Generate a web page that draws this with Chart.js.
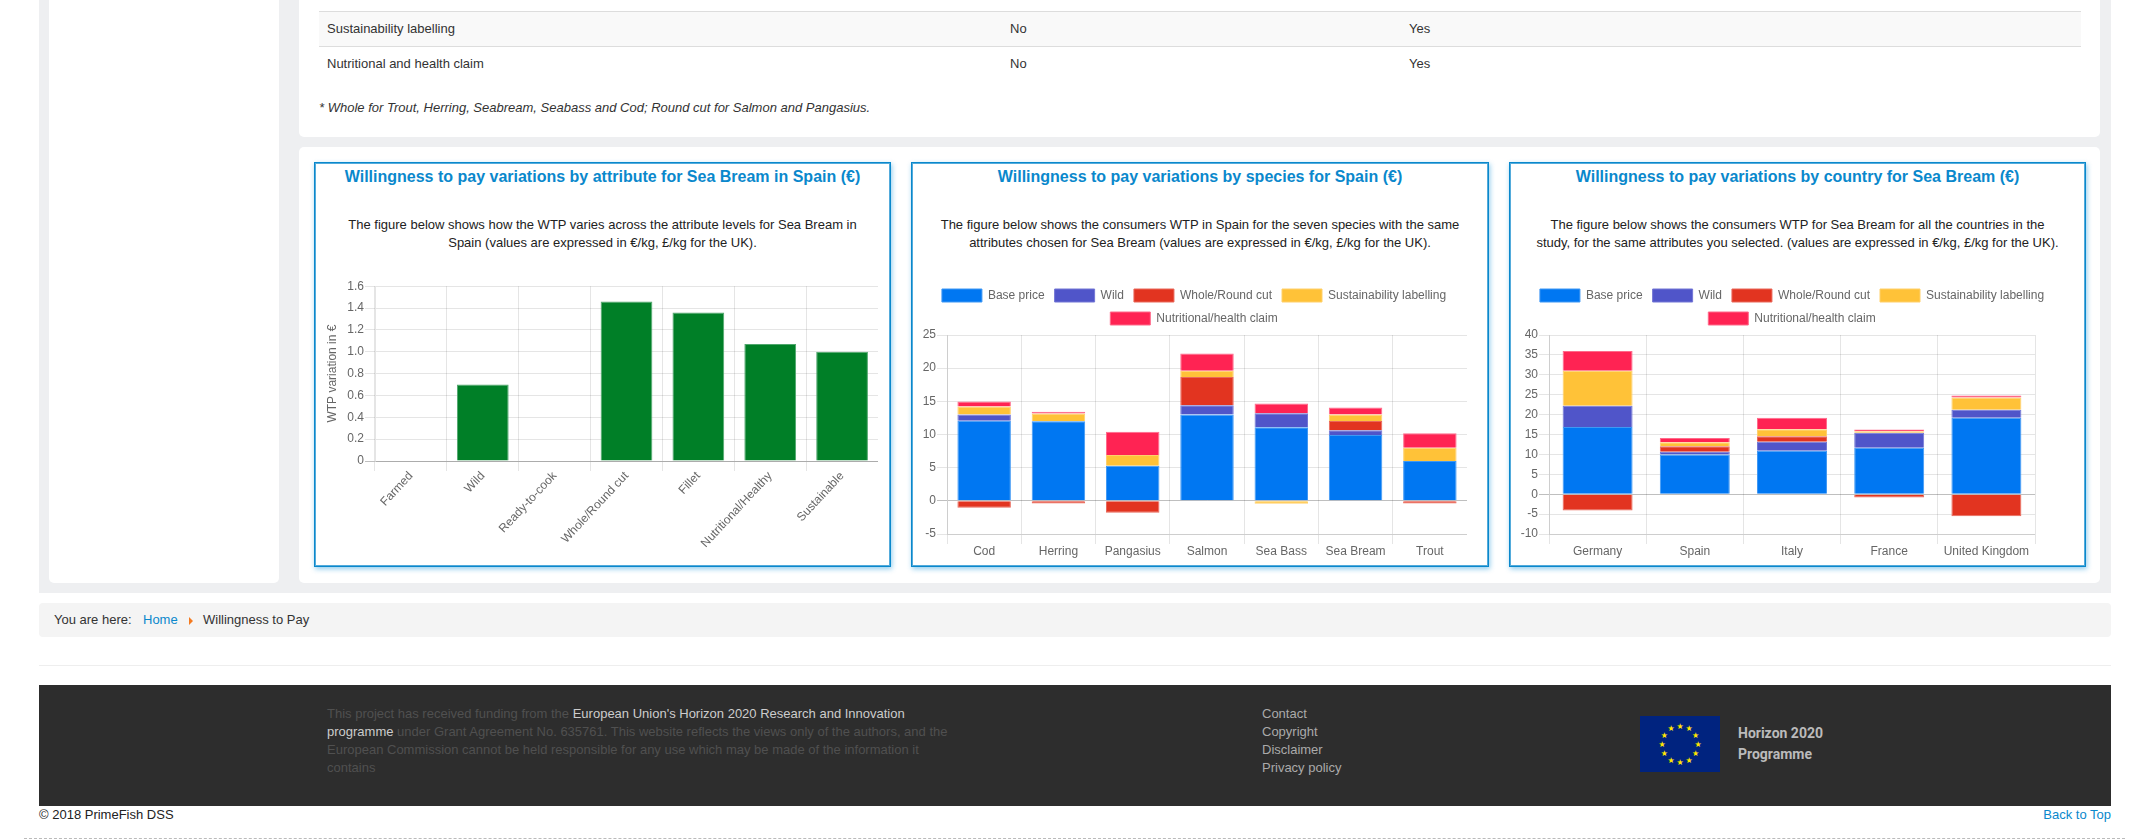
<!DOCTYPE html>
<html>
<head>
<meta charset="utf-8">
<title>Willingness to Pay</title>
<script src="https://cdn.jsdelivr.net/npm/chart.js@4"></script>
<style>
html, body { margin: 0; padding: 0; background: #fff; }
body { position: relative; width: 2151px; height: 839px; overflow: hidden; font-family: "Liberation Sans", Arial, sans-serif; font-size: 13px; color: #333; }
.abs { position: absolute; }
.line { position: absolute; white-space: nowrap; line-height: 18px; }
.card { position: absolute; top: 162px; height: 405px; background: #fff; border: 1px solid #0a88cc; box-sizing: border-box; box-shadow: 1px 2px 5px rgba(10,143,214,.45), inset 0 0 0 1px rgba(10,136,204,.7); }
.card h4 { position: absolute; left: 0; right: 0; top: 4px; margin: 0; text-align: center; font-size: 16px; line-height: 20px; font-weight: bold; color: #0a88cc; }
.card p { position: absolute; left: 0; right: 0; top: 53px; margin: 0; text-align: center; font-size: 13px; line-height: 18px; color: #222; }
canvas { position: absolute; }
a { color: #0a88cc; text-decoration: none; }
</style>
</head>
<body>
<div class="abs" style="left:39px;top:0;width:2072px;height:593px;background:#eeeff1"></div>
<div class="abs" style="left:49px;top:0;width:230px;height:583px;background:#fff;border-radius:0 0 5px 5px"></div>
<div class="abs" style="left:299px;top:0;width:1801px;height:137px;background:#fff;border-radius:0 0 5px 5px"></div>
<div class="abs" style="left:299px;top:147px;width:1801px;height:436px;background:#fff;border-radius:5px"></div>

<div class="abs" style="left:319px;top:11px;width:1762px;height:36px;background:#f9f9f9;border-top:1px solid #ddd;border-bottom:1px solid #ddd;box-sizing:border-box"></div>
<div class="line" style="left:327px;top:20px">Sustainability labelling</div>
<div class="line" style="left:1010px;top:20px">No</div>
<div class="line" style="left:1409px;top:20px">Yes</div>
<div class="line" style="left:327px;top:55px">Nutritional and health claim</div>
<div class="line" style="left:1010px;top:55px">No</div>
<div class="line" style="left:1409px;top:55px">Yes</div>
<div class="line" style="left:319px;top:99px;font-style:italic">* Whole for Trout, Herring, Seabream, Seabass and Cod; Round cut for Salmon and Pangasius.</div>

<div class="card" style="left:314px;width:577px">
  <h4>Willingness to pay variations by attribute for Sea Bream in Spain (€)</h4>
  <p>The figure below shows how the WTP varies across the attribute levels for Sea Bream in<br>Spain (values are expressed in €/kg, £/kg for the UK).</p>
</div>
<div class="card" style="left:911px;width:578px">
  <h4>Willingness to pay variations by species for Spain (€)</h4>
  <p>The figure below shows the consumers WTP in Spain for the seven species with the same<br>attributes chosen for Sea Bream (values are expressed in €/kg, £/kg for the UK).</p>
</div>
<div class="card" style="left:1509px;width:577px">
  <h4>Willingness to pay variations by country for Sea Bream (€)</h4>
  <p>The figure below shows the consumers WTP for Sea Bream for all the countries in the<br>study, for the same attributes you selected. (values are expressed in €/kg, £/kg for the UK).</p>
</div>

<canvas id="chart1" width="555" height="281" style="left:323px;top:278px"></canvas>
<canvas id="chart2" width="546" height="280" style="left:921px;top:279px"></canvas>
<canvas id="chart3" width="546" height="280" style="left:1519px;top:279px"></canvas>

<div class="abs" style="left:39px;top:603px;width:2072px;height:34px;background:#f4f4f4;border-radius:4px"></div>
<div class="line" style="left:54px;top:611px">You are here:</div>
<div class="line" style="left:143px;top:611px"><a href="#">Home</a></div>
<div class="abs" style="left:189px;top:617px;width:0;height:0;border-left:4px solid #f47a20;border-top:4px solid transparent;border-bottom:4px solid transparent"></div>
<div class="line" style="left:203px;top:611px">Willingness to Pay</div>

<div class="abs" style="left:39px;top:665px;width:2072px;height:1px;background:#eee"></div>

<div class="abs" style="left:39px;top:685px;width:2072px;height:121px;background:#2d2d2d"></div>
<div class="line" style="left:327px;top:705px;color:#505050">This project has received funding from the <span style="color:#ccc">European Union's Horizon 2020 Research and Innovation</span></div>
<div class="line" style="left:327px;top:723px;color:#505050"><span style="color:#ccc">programme</span> under Grant Agreement No. 635761. This website reflects the views only of the authors, and the</div>
<div class="line" style="left:327px;top:741px;color:#505050">European Commission cannot be held responsible for any use which may be made of the information it</div>
<div class="line" style="left:327px;top:759px;color:#505050">contains</div>
<div class="line" style="left:1262px;top:705px;color:#aaa">Contact</div>
<div class="line" style="left:1262px;top:723px;color:#aaa">Copyright</div>
<div class="line" style="left:1262px;top:741px;color:#aaa">Disclaimer</div>
<div class="line" style="left:1262px;top:759px;color:#aaa">Privacy policy</div>
<svg class="abs" id="flag" style="left:1640px;top:716px" width="80" height="56"></svg>
<div class="line" style="left:1738px;top:724px;color:#bbb;font-size:14px;font-weight:bold;font-family:Roboto,sans-serif">Horizon 2020</div>
<div class="line" style="left:1738px;top:745px;color:#bbb;font-size:14px;font-weight:bold;font-family:Roboto,sans-serif">Programme</div>

<div class="line" style="left:39px;top:806px;color:#222">© 2018 PrimeFish DSS</div>
<div class="line" style="right:40px;top:806px"><a href="#">Back to Top</a></div>
<div class="abs" style="left:24px;top:838px;width:2101px;height:0;border-top:1px dashed #bbb"></div>

<script>
/* chart 1: by attribute */
const attributes = ['Farmed', 'Wild', 'Ready-to-cook', 'Whole/Round cut', 'Fillet', 'Nutritional/Healthy', 'Sustainable'];
const attributeWtp = [0, 0.7, 0, 1.46, 1.36, 1.07, 1.0];

/* chart 2: by species */
const species = ['Cod', 'Herring', 'Pangasius', 'Salmon', 'Sea Bass', 'Sea Bream', 'Trout'];
const speciesBase = [12.07, 12.0, 5.3, 13.0, 11.1, 9.93, 6.0];
const speciesWild = [0.95, 0.05, 0, 1.4, 2.1, 0.7, 0];
const speciesCut = [-1.05, -0.4, -1.8, 4.26, 0, 1.4, -0.4];
const speciesSustain = [1.2, 1.12, 1.6, 0.95, -0.45, 1.0, 2.0];
const speciesClaim = [0.75, 0.25, 3.5, 2.6, 1.47, 1.04, 2.18];

/* chart 3: by country */
const countries = ['Germany', 'Spain', 'Italy', 'France', 'United Kingdom'];
const countryBase = [16.9, 10.0, 10.9, 11.64, 19.2];
const countryWild = [5.3, 0.65, 2.25, 3.8, 2.0];
const countryCut = [-4.07, 1.4, 1.4, -0.85, -5.57];
const countrySustain = [8.8, 1.0, 1.75, 0.4, 3.07];
const countryClaim = [5.0, 1.05, 2.9, 0.4, 0.5];

const seriesNames = ['Base price', 'Wild', 'Whole/Round cut', 'Sustainability labelling', 'Nutritional/health claim'];
const seriesFill = ['#0077f2', '#5055c9', '#e23420', '#ffc238', '#ff2353'];
const seriesEdge = ['#3f98f4', '#7377d5', '#e9685a', '#ffd06a', '#ff6a8a'];

Chart.defaults.font.family = '"Liberation Sans", Arial, sans-serif';
Chart.defaults.font.size = 12;
Chart.defaults.color = '#666';
Chart.defaults.animation = false;
Chart.defaults.responsive = false;
Chart.defaults.devicePixelRatio = 1;

function gridColor(ctx) {
  return ctx.tick && ctx.tick.value === 0 ? 'rgba(0,0,0,0.25)' : 'rgba(0,0,0,0.1)';
}

function stackedDatasets(rows) {
  return rows.map((row, i) => ({
    label: seriesNames[i],
    data: row,
    backgroundColor: seriesFill[i],
    borderColor: seriesEdge[i],
    borderWidth: 1
  }));
}

function yAxis(min, max, step, width, stacked) {
  return {
    min: min, max: max, stacked: stacked,
    afterFit: scale => { scale.width = width; },
    ticks: { stepSize: step, padding: 1 },
    grid: { color: gridColor, tickLength: 10 },
    border: { color: 'rgba(0,0,0,0.1)' }
  };
}

function xAxis(height, stacked) {
  return {
    stacked: stacked,
    afterFit: scale => { scale.height = height; },
    ticks: { padding: 0, autoSkip: false, maxRotation: 0 },
    grid: { color: 'rgba(0,0,0,0.1)', tickLength: 10 },
    border: { color: 'rgba(0,0,0,0.1)' }
  };
}

new Chart(document.getElementById('chart1'), {
  type: 'bar',
  data: {
    labels: attributes,
    datasets: [{
      label: 'WTP variation',
      data: attributeWtp,
      backgroundColor: '#007f27',
      borderColor: '#4fa76d',
      borderWidth: 1
    }]
  },
  options: {
    plugins: { legend: { display: false }, tooltip: { enabled: false } },
    scales: {
      x: Object.assign(xAxis(98, false), {
        ticks: { padding: -2, autoSkip: false, minRotation: 47, maxRotation: 47 }
      }),
      y: Object.assign(yAxis(0, 1.6, 0.2, 52, false), {
        title: { display: true, text: 'WTP variation in €', padding: 2, color: '#666' }
      })
    }
  }
});

/* empty right axis keeps the legend at full canvas width while the plot stops short */
const stackedOptions = (min, max, step, yWidth, rightGap) => {
  const scales = { x: xAxis(25, true), y: yAxis(min, max, step, yWidth, true) };
  if (rightGap > 0) {
    scales.gap = {
      position: 'right', min: 0, max: 1,
      afterFit: scale => { scale.width = rightGap; },
      ticks: { display: false },
      grid: { display: false, drawTicks: false },
      border: { display: false }
    };
  }
  return {
    plugins: {
      tooltip: { enabled: false },
      legend: { labels: { boxWidth: 40, boxHeight: 13 } }
    },
    scales: scales
  };
};

new Chart(document.getElementById('chart2'), {
  type: 'bar',
  data: {
    labels: species,
    datasets: stackedDatasets([speciesBase, speciesWild, speciesCut, speciesSustain, speciesClaim])
  },
  options: stackedOptions(-5, 25, 5, 26, 0)
});

new Chart(document.getElementById('chart3'), {
  type: 'bar',
  data: {
    labels: countries,
    datasets: stackedDatasets([countryBase, countryWild, countryCut, countrySustain, countryClaim])
  },
  options: stackedOptions(-10, 40, 5, 30, 30)
});

/* EU flag in the footer */
const flag = document.getElementById('flag');
let flagMarkup = '<rect width="80" height="56" fill="#00237f"/>';
for (let i = 0; i < 12; i++) {
  const a = i * Math.PI / 6;
  flagMarkup += '<text x="' + (40 + 18 * Math.sin(a)) + '" y="' + (28 - 18 * Math.cos(a) + 3) + '" font-size="8" text-anchor="middle" fill="#ffe600" font-family="DejaVu Sans">★</text>';
}
flag.innerHTML = flagMarkup;
</script>
</body>
</html>
